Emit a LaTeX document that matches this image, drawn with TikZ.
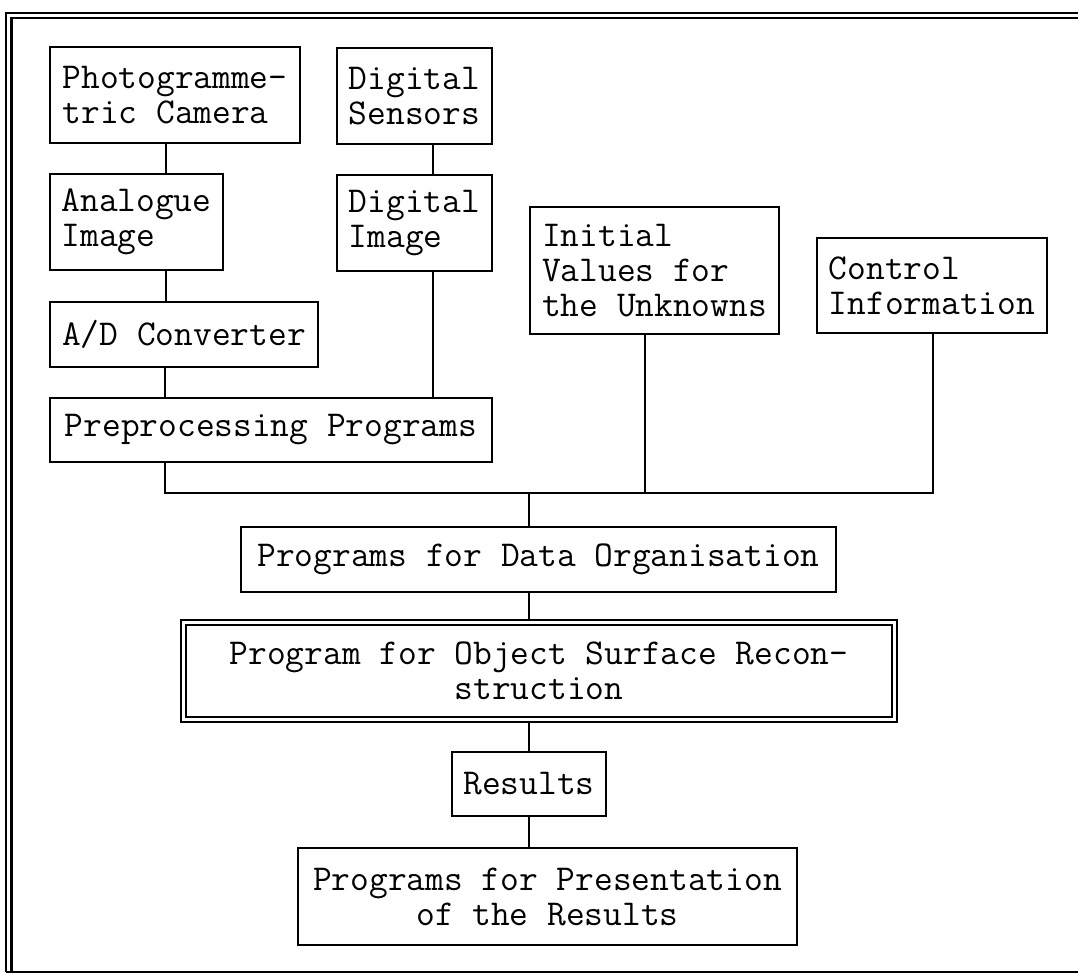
\documentclass[tikz,border=0pt]{standalone}
\usepackage{tikz}

\begin{document}
\begin{tikzpicture}[x=0.5pt,y=-0.5pt,
        box/.style={draw, line width=1.1pt, inner xsep=4pt, inner ysep=0pt, align=left,
            font=\ttfamily\fontsize{18.2}{17.5}\selectfont},
        link/.style={line width=1.1pt}]
        \useasboundingbox (0,0) rectangle (1078,974);

        % Frame
        \draw[link] (6,972) -- (6,13) -- (1078,13);
        \draw[link] (11.5,972) -- (11.5,18) -- (1078,18);
        \draw[link] (6,972) -- (1078,972);

        % Acquisition
        \node[box, minimum width=125pt, minimum height=48pt] (photo) at (175,95) {Photogramme-\\tric Camera};
        \node[box, minimum width=77.5pt, minimum height=48pt] (sensors) at (414.5,96) {Digital\\Sensors};
        \node[box, minimum width=86.5pt, minimum height=48pt] (analogue) at (136.5,222) {Analogue\\Image};
        \node[box, minimum width=77.5pt, minimum height=48pt] (digimage) at (414.5,223) {Digital\\Image};
        \node[box, minimum width=134pt, minimum height=32.5pt] (adconv) at (184,334.5) {A/D Converter};
        \node[box, minimum width=221pt, minimum height=32pt] (preproc) at (271,430) {Preprocessing Programs};

        % Further input
        \node[box, minimum width=124.5pt, minimum height=63.5pt] (initial) at (654.5,270.5) {Initial\\Values for\\the Unknowns};
        \node[box, minimum width=115pt, minimum height=47.5pt] (control) at (932,285.5) {Control\\Information};

        % Processing
        \node[box, align=center, minimum width=297.5pt, minimum height=32.5pt] (dataorg) at (538.5,559.5) {Programs for Data Organisation};
        \node[box, align=center, double, double distance=1.4pt, outer sep=1.8pt,
            minimum width=355.25pt, minimum height=48.5pt] (recon) at (539,671) {Program for Object Surface Recon-\\struction};
        \node[box, minimum width=77pt, minimum height=32pt] (results) at (529,784) {Results};
        \node[box, align=center, minimum width=249.5pt, minimum height=48.5pt] (present) at (547.5,896.5) {Programs for Presentation\\of the Results};

        % Columns and bus
        \coordinate (colA) at (166,0);
        \coordinate (colB) at (433,0);
        \coordinate (busL) at (165,493);
        \coordinate (busI) at (645,493);
        \coordinate (busM) at (529,493);
        \coordinate (busR) at (933,493);

        % Connect acquisition chain
        \draw[link] (photo.south -| colA) -- (analogue.north -| colA);
        \draw[link] (analogue.south -| colA) -- (adconv.north -| colA);
        \draw[link] (adconv.south -| busL) -- (preproc.north -| busL);
        \draw[link] (sensors.south -| colB) -- (digimage.north -| colB);
        \draw[link] (digimage.south -| colB) -- (preproc.north -| colB);

        % Connect to the bus
        \draw[link] (preproc.south -| busL) -- (busL) -- (busR) -- (control.south -| busR);
        \draw[link] (initial.south -| busI) -- (busI);

        % Connect processing chain
        \draw[link] (busM) -- (dataorg.north -| busM);
        \draw[link] (dataorg.south -| busM) -- (recon.north -| busM);
        \draw[link] (recon.south -| busM) -- (results.north -| busM);
        \draw[link] (results.south -| busM) -- (present.north -| busM);
    \end{tikzpicture}
\end{document}
